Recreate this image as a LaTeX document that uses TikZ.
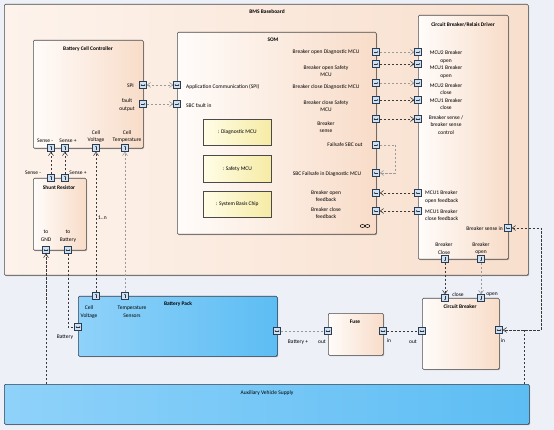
\documentclass[tikz,border=0pt]{standalone}
\usepackage{fontspec}
\setmainfont{Carlito}
\usetikzlibrary{arrows.meta,shadows}
\definecolor{bg}{HTML}{EEF0F8}
\definecolor{bbL}{HTML}{FDF3EC}
\definecolor{bbR}{HTML}{F8DFCD}
\definecolor{pL}{HTML}{FFFCFA}
\definecolor{pR}{HTML}{F8DCC8}
\definecolor{blL}{HTML}{8FD2FA}
\definecolor{blR}{HTML}{5DBDF3}
\definecolor{yL}{HTML}{FFFDE6}
\definecolor{yR}{HTML}{F6EBA5}
\definecolor{edge}{HTML}{4A4A4A}
\definecolor{bedge}{HTML}{2F3A4A}
\definecolor{pfill}{HTML}{CFE2F5}
\definecolor{pedge}{HTML}{2B3B50}
\definecolor{dk}{HTML}{3A3A3A}
\definecolor{lt}{HTML}{9A9A9A}
\tikzset{
  shd/.style={drop shadow={shadow xshift=0.8pt,shadow yshift=-0.8pt,opacity=0.25,fill=black}},
  boxbase/.style={rectangle, rounded corners=1.2pt, line width=0.6pt, inner sep=0pt, anchor=north west},
  bbbox/.style={boxbase, draw=edge, left color=bbL, right color=bbR, shd},
  peachbox/.style={boxbase, draw=edge, left color=pL, right color=pR, shd},
  bluebox/.style={boxbase, draw=bedge, left color=blL, right color=blR, shd},
  partbox/.style={boxbase, rounded corners=0pt, draw=edge, left color=yL, right color=yR, shd},
  port/.style={rectangle, draw=pedge, fill=pfill, minimum size=7pt, inner sep=0pt, line width=0.5pt},
  glyph/.style={line width=0.4pt, draw=black!80},
  con/.style={dash pattern=on 2.5pt off 1.5pt, line width=0.55pt, draw=dk},
  conl/.style={dash pattern=on 2.5pt off 1.5pt, line width=0.55pt, draw=lt},
  lbl/.style={inner sep=0pt, align=center},
  ttl/.style={inner sep=0pt, align=center, font=\fontsize{5.4}{6.5}\selectfont\bfseries},
  >={Straight Barb[length=3.5pt,width=5pt]}
}
\newcommand\portA[4]{%
  \node[port] (#1) at (#2,#3) {};
  \draw[glyph,-{Stealth[length=1.2pt,width=1.6pt]}] (#1.center) ++(#4+180:2.2pt) -- ++(#4:4.4pt);
}
\newcommand\portB[4]{%
  \node[port] (#1) at (#2,#3) {};
  \draw[glyph,{Stealth[length=1.1pt,width=1.6pt]}-{Stealth[length=1.1pt,width=1.6pt]}] (#1.center) ++(#4+180:2.4pt) -- ++(#4:4.8pt);
}
\begin{document}
\begin{tikzpicture}[x=1pt,y=-1pt,font=\fontsize{5.5}{7.5}\selectfont]
\useasboundingbox (0,0) rectangle (554,430);
\fill[bg] (0,0) rectangle (554,430);

% ---------- boxes ----------
\node[bbbox, minimum width=524pt, minimum height=271pt] (bb) at (4,4) {};
\node[ttl] (tbb) at (267,12) {BMS Baseboard};

\node[peachbox, minimum width=110pt, minimum height=108pt] (bcc) at (33,40) {};
\node[ttl] (tbcc) at (88,49) {Battery Cell Controller};

\node[peachbox, minimum width=53pt, minimum height=72pt] (sh) at (33,178) {};
\node[ttl] (tsh) at (59,188) {Shunt Resistor};

\node[peachbox, minimum width=199pt, minimum height=202pt] (som) at (177,32) {};
\node[ttl] (tsom) at (273,40) {SOM};

\node[partbox, minimum width=68pt, minimum height=26pt] (diag) at (203,119) {};
\node[lbl] (tdiag) at (diag.center) {: Diagnostic MCU};
\node[partbox, minimum width=68pt, minimum height=27pt] (saf) at (203,155) {};
\node[lbl] (tsaf) at (saf.center) {: Safety MCU};
\node[partbox, minimum width=68pt, minimum height=26pt] (sbc) at (203,191) {};
\node[lbl] (tsbc) at (sbc.center) {: System Basis Chip};

\node[peachbox, minimum width=90pt, minimum height=244pt] (rel) at (418,15) {};
\node[ttl] (trel) at (463,25) {Circuit Breaker/Relais Driver};

\node[peachbox, minimum width=77pt, minimum height=71pt] (cb) at (422,298) {};
\node[ttl] (tcb) at (460,307) {Circuit Breaker};

\node[peachbox, minimum width=55pt, minimum height=42pt] (fuse) at (328,313) {};
\node[ttl] (tfuse) at (355,322) {Fuse};

\node[bluebox, minimum width=199pt, minimum height=60pt] (bp) at (78,296) {};
\node[ttl] (tbp) at (178,304) {Battery Pack};

\node[bluebox, minimum width=525pt, minimum height=40pt] (aux) at (4,384) {};
\node[lbl] (taux) at (267,393) {Auxiliary Vehicle Supply};

% infinity symbol of SOM
\draw[line width=0.5pt] (362.5,226) ellipse (2.3pt and 1.5pt);
\draw[line width=0.5pt] (367.5,226) ellipse (2.3pt and 1.5pt);

% ---------- ports ----------
% BCC
\portB{bspi}{143}{85}{0}
\portA{bfault}{143}{104}{0}
\portA{bsm}{51}{148}{90}
\portA{bsp}{65}{148}{90}
\portA{bcv}{96}{148}{90}
\portA{bct}{125}{148}{90}
% Shunt
\portA{ssm}{51}{178}{90}
\portA{ssp}{65}{178}{90}
\portB{sgnd}{46}{250}{0}
\portB{sbat}{68}{250}{0}
% SOM left
\portB{mspi}{177}{85}{0}
\portA{mfault}{177}{104}{0}
% SOM right
\portA{mod}{376}{52}{0}
\portA{mos}{376}{64}{0}
\portA{mcd}{376}{83}{0}
\portA{mcs}{376}{100}{0}
\portB{msense}{376}{119}{0}
\portA{mfso}{376}{145}{0}
\portA{mfsi}{376}{173}{180}
\portA{mofb}{376}{193}{180}
\portA{mcfb}{376}{211}{180}
% Relais driver
\portA{rod}{418}{52}{0}
\portA{ros}{418}{64}{0}
\portA{rcd}{418}{83}{0}
\portA{rcs}{418}{100}{0}
\portB{rsense}{418}{119}{0}
\portA{rofb}{418}{193}{180}
\portA{rcfb}{418}{211}{180}
\portA{rsin}{508}{228}{180}
\portA{rclose}{445}{259}{270}
\portA{ropen}{481}{259}{270}
% Circuit breaker
\portA{cclose}{445}{298}{270}
\portA{copen}{481}{298}{270}
\portB{cout}{422}{331}{0}
\portB{cin}{499}{330}{0}
% Fuse
\portB{fout}{328}{331}{0}
\portB{fin}{383}{331}{0}
% Battery pack
\portA{pcv}{96}{296}{90}
\portA{pct}{125}{296}{90}
\portB{pbat}{78}{327}{0}
\portB{pplus}{277}{331}{0}

% ---------- labels ----------
\node[lbl, anchor=east] (lspi) at (134,86) {SPI};
\node[lbl] (lfault) at (127,105) {fault\\output};
\node[lbl] (lsm) at (45,141) {Sense -};
\node[lbl] (lsp) at (68,141) {Sense +};
\node[lbl] (lcv) at (96,136.5) {Cell\\Voltage};
\node[lbl] (lct) at (127,136.5) {Cell\\Temperature};

\node[lbl] (lssm) at (33,173) {Sense -};
\node[lbl] (lssp) at (78,173) {Sense +};
\node[lbl] (lgnd) at (46,236) {to\\GND};
\node[lbl] (lbat) at (68,236) {to\\Battery};

\node[lbl, anchor=west] (lapp) at (186,87) {Application Communication (SPI)};
\node[lbl, anchor=west] (lsbcf) at (186,106) {SBC fault in};

\node[lbl] (lmod) at (326,52) {Breaker open Diagnostic MCU};
\node[lbl] (lmos) at (326,71) {Breaker open Safety\\MCU};
\node[lbl] (lmcd) at (326,87) {Breaker close Diagnostic MCU};
\node[lbl] (lmcs) at (326,106) {Breaker close Safety\\MCU};
\node[lbl] (lmse) at (326,127) {Breaker\\sense};
\node[lbl] (lfso) at (345,145) {Failsafe SBC out};
\node[lbl] (lfsi) at (327,174) {SBC Failsafe in Diagnostic MCU};
\node[lbl] (lofb) at (326,196) {Breaker open\\feedback};
\node[lbl] (lcfb) at (326,213) {Breaker close\\feedback};

\node[lbl] (lrod) at (446,57) {MCU2 Breaker\\open};
\node[lbl] (lros) at (446,72) {MCU1 Breaker\\open};
\node[lbl] (lrcd) at (446,89) {MCU2 Breaker\\close};
\node[lbl] (lrcs) at (446,104) {MCU1 Breaker\\close};
\node[lbl] (lrse) at (446,125) {Breaker sense /\\breaker sense\\control};
\node[lbl, anchor=west, align=left] (lrofb) at (425,197) {MCU1 Breaker\\open feedback};
\node[lbl, anchor=west, align=left] (lrcfb) at (425,215) {MCU1 Breaker\\close feedback};
\node[lbl, anchor=east] (lrsin) at (503,229) {Breaker sense in};
\node[lbl] (lrclose) at (444,248.5) {Breaker\\Close};
\node[lbl] (lropen) at (481,248.5) {Breaker\\open};

\node[lbl] (lcclose) at (458,295) {close};
\node[lbl] (lcopen) at (492,295) {open};
\node[lbl] (lcout) at (413,342) {out};
\node[lbl] (lcin) at (503,341) {in};
\node[lbl] (lfout) at (322,342) {out};
\node[lbl] (lfin) at (389,341) {in};

\node[lbl] (lpcv) at (89,312) {Cell\\Voltage};
\node[lbl] (lpct) at (132,312) {Temperature\\Sensors};
\node[lbl] (lpbat) at (65,337) {Battery};
\node[lbl] (lpplus) at (298,342) {Battery +};
\node[lbl, anchor=west] (l1n) at (98,218) {1..n};

% ---------- connectors ----------
\draw[conl,<->] (bspi.east) -- (mspi.west);
\draw[conl,->] (bfault.east) -- (mfault.west);
\draw[con,->] (ssm.north) -- (bsm.south);
\draw[con,->] (ssp.north) -- (bsp.south);
\draw[con,->] (pcv.north) -- (bcv.south);
\draw[conl,->] (pct.north) -- (bct.south);
\draw[con,->] (sgnd.south |- aux.north) -- (sgnd.south);
\draw[con] (sbat.south) |- (pbat.west);

\draw[conl,->] (mod.east) -- (rod.west);
\draw[con,->] (mos.east) -- (ros.west);
\draw[conl,->] (mcd.east) -- (rcd.west);
\draw[con,->] (mcs.east) -- (rcs.west);
\draw[con,->] (msense.east) -- (rsense.west);
\draw[conl,->] (mfso.east) -- ++(16,0) |- (mfsi.east);
\draw[con,->] (rofb.west) -- (mofb.east);
\draw[con,->] (rcfb.west) -- (mcfb.east);

\draw[con,->] (rclose.south) -- (cclose.north);
\draw[conl,->] (ropen.south) -- (copen.north);

\coordinate (sc1) at (541,228);
\coordinate (sc2) at (541,330);
\coordinate (sc3) at (524,330);
\draw[con,<->] (rsin.east) -- (sc1) -- (sc2) -- (cin.east);
\draw[con] (sc3 |- aux.north) -- (sc3);

\draw[conl] (pplus.east) -- (fout.west);
\draw[con] (fin.east) -- (cout.west);
\end{tikzpicture}
\end{document}
